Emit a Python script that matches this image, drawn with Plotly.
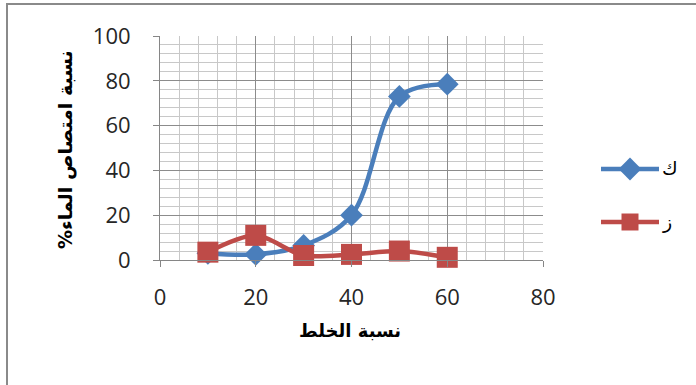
import plotly.graph_objects as go

x_vals = [10, 20, 30, 40, 50, 60]
k_vals = [3, 2.5, 6.5, 20, 73, 78.5]
z_vals = [3.5, 11, 2, 2.5, 4, 1.2]
x_ticks = [0, 20, 40, 60, 80]
y_ticks = [0, 20, 40, 60, 80, 100]
names = ["ك", "ز"]
x_title = "نسبة الخلط"
y_title = "نسبة امتصاص الماء%"

BLUE = "#4a7ebb"
RED = "#be4b48"
FONT = "Open Sans"
W, H = 696, 385


def px_x(p):
    return p / W


def px_y(p):
    return 1 - p / H


fig = go.Figure()
fig.add_trace(go.Scatter(
    x=x_vals, y=k_vals, name=names[0], mode="lines+markers",
    line=dict(color=BLUE, width=4.5, shape="spline", smoothing=1.0),
    marker=dict(symbol="diamond", size=17.5, color=BLUE),
    cliponaxis=False, showlegend=False))
fig.add_trace(go.Scatter(
    x=x_vals, y=z_vals, name=names[1], mode="lines+markers",
    line=dict(color=RED, width=4.5, shape="spline", smoothing=0.8),
    marker=dict(symbol="square", size=21, color=RED),
    cliponaxis=False, showlegend=False))

axis_common = dict(
    showline=True, linecolor="#868686", linewidth=1,
    showgrid=True, gridcolor="#8c8c8c", gridwidth=1,
    ticks="outside", ticklen=6, tickcolor="#868686",
    tickfont=dict(family=FONT, size=22, color="#262626"),
    zeroline=False, fixedrange=True, automargin=False,
)

fig.update_layout(
    xaxis=dict(domain=[px_x(160), px_x(543)], range=[0, 80], tickvals=x_ticks,
               ticklabelstandoff=12, anchor="y",
               minor=dict(dtick=4, tick0=0, showgrid=True, gridcolor="#c8c8c8", gridwidth=1, ticks=""),
               **axis_common),
    yaxis=dict(domain=[px_y(260), px_y(36)], range=[0, 100], tickvals=y_ticks,
               ticklabelstandoff=18, anchor="x",
               minor=dict(dtick=4, tick0=0, showgrid=True, gridcolor="#c8c8c8", gridwidth=1, ticks=""),
               **axis_common),
    # legend sample area, 1 unit = 1 px
    xaxis2=dict(domain=[px_x(595), px_x(665)], range=[595, 665], visible=False,
                fixedrange=True, anchor="y2", automargin=False),
    yaxis2=dict(domain=[px_y(240), px_y(140)], range=[240, 140], visible=False,
                fixedrange=True, anchor="x2", automargin=False),
)

# legend samples (line + marker)
leg_y = [169, 222]
leg_sym = ["diamond", "square"]
leg_size = [17.5, 17]
leg_col = [BLUE, RED]
for i in range(2):
    fig.add_trace(go.Scatter(
        x=[601, 630, 659], y=[leg_y[i]] * 3, mode="lines", xaxis="x2", yaxis="y2",
        line=dict(color=leg_col[i], width=4.5), showlegend=False, hoverinfo="skip"))
    fig.add_trace(go.Scatter(
        x=[630], y=[leg_y[i]], mode="markers", xaxis="x2", yaxis="y2",
        marker=dict(symbol=leg_sym[i], size=leg_size[i], color=leg_col[i]),
        showlegend=False, hoverinfo="skip", cliponaxis=False))
    fig.add_annotation(text=names[i], xref="paper", yref="paper",
                       x=px_x(660), y=px_y(leg_y[i] - 1), xanchor="left", yanchor="middle",
                       showarrow=False, font=dict(family="DejaVu Sans", size=19, color="#000"))

fig.add_annotation(text="<b>" + x_title + "</b>", xref="paper", yref="paper",
                   x=px_x(350), y=px_y(330), xanchor="center", yanchor="middle", showarrow=False,
                   font=dict(family="DejaVu Sans", size=18, color="#000"))
fig.add_annotation(text="<b>" + y_title + "\u200f</b>", xref="paper", yref="paper",
                   x=px_x(65), y=px_y(150), xanchor="center", yanchor="middle",
                   showarrow=False, textangle=-90,
                   font=dict(family="DejaVu Sans", size=19, color="#000"))

fig.add_shape(type="rect", xref="paper", yref="paper",
              x0=px_x(7), y0=px_y(390), x1=px_x(710), y1=px_y(4),
              line=dict(color="#8a8a8a", width=2), layer="below")

fig.update_layout(
    width=W, height=H,
    margin=dict(l=0, r=0, t=0, b=0, autoexpand=False),
    paper_bgcolor="white", plot_bgcolor="white",
    showlegend=False,
)

fig.write_html("out.html")
